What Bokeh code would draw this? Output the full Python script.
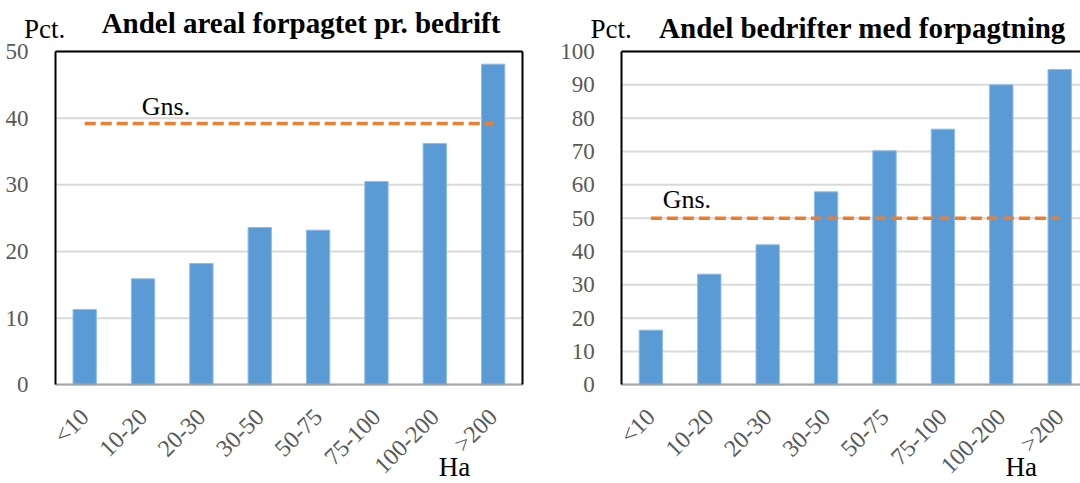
import math
from bokeh.plotting import figure
from bokeh.models import Range1d, LinearAxis, FixedTicker, Label
from bokeh.layouts import row
from bokeh.embed import file_html
from bokeh.resources import INLINE

# ---------------- data ----------------
categories = ["<10", "10-20", "20-30", "30-50", "50-75", "75-100", "100-200", ">200"]
areal_share = [11.3, 15.9, 18.2, 23.6, 23.2, 30.5, 36.2, 48.1]
areal_avg = 39.2
farms_share = [16.4, 33.2, 42.0, 57.9, 70.2, 76.7, 90.0, 94.6]
farms_avg = 50.0
left_title = "Andel areal forpagtet pr. bedrift"
right_title = "Andel bedrifter med forpagtning"
y_unit = "Pct."
x_unit = "Ha"
avg_label = "Gns."
left_yticks = [0, 10, 20, 30, 40, 50]
right_yticks = [0, 10, 20, 30, 40, 50, 60, 70, 80, 90, 100]

# ---------------- style / layout ----------------
FONT = "Liberation Serif"
BAR = "#5B9BD5"
AVG = "#ED7D31"
GRID = "#D9D9D9"
TICKTXT = "#595959"
H = 483
ZERO_PX = 384.3      # canvas y of value 0
TOP_PX = 51.0        # canvas y of axis maximum
MID = 0.34           # label anchor sits this many em above the baseline

idx = list(range(len(categories)))


def make_panel(width, c0_px, cat_px, ymax, yticks, values, avg, title,
               title_cx, title_base, pct_x, ha_x, gns_i, gns_xoff, gns_rise):
    ppu = (ZERO_PX - TOP_PX) / ymax
    x_start = -0.5 - (c0_px - cat_px / 2) / cat_px
    x_end = x_start + width / cat_px
    y_start = -(H - ZERO_PX) / ppu
    y_end = ZERO_PX / ppu
    left_edge = idx[0] - 0.5
    right_edge = idx[-1] + 0.5

    p = figure(width=width, height=H, output_backend="svg", toolbar_location=None,
               x_range=Range1d(x_start, x_end), y_range=Range1d(y_start, y_end),
               min_border=0)
    p.min_border_left = 0
    p.min_border_right = 0
    p.min_border_top = 0
    p.min_border_bottom = 0
    p.outline_line_color = None
    p.background_fill_color = "white"
    p.border_fill_color = "white"
    p.xgrid.visible = False
    p.ygrid.visible = False

    # horizontal gridlines limited to the plot box
    p.segment(x0=[left_edge] * len(yticks), x1=[right_edge] * len(yticks),
              y0=yticks, y1=yticks, line_color=GRID, line_width=2)

    # bars
    p.vbar(x=idx, top=values, width=0.4, bottom=0, fill_color=BAR,
           line_color="#8FBDE6", line_width=1)
    # average line
    p.line(x=[idx[0], idx[-1]], y=[avg, avg], line_color=AVG, line_width=3.5,
           line_dash="11 5")

    # x axis (category axis at value 0)
    xa = p.xaxis[0]
    xa.fixed_location = 0
    xa.bounds = (left_edge, right_edge)
    xa.ticker = FixedTicker(ticks=idx)
    xa.major_label_overrides = {i: c for i, c in zip(idx, categories)}
    xa.major_label_orientation = math.pi / 4
    xa.major_label_text_font = FONT
    xa.major_label_text_font_size = "24px"
    xa.major_label_text_color = TICKTXT
    xa.major_label_standoff = 22
    xa.major_tick_line_color = None
    xa.minor_tick_line_color = None
    xa.axis_line_color = "#A6A6A6"
    xa.axis_line_width = 2

    # y axis (value axis at left edge of plot box)
    ya = p.yaxis[0]
    ya.fixed_location = left_edge
    ya.bounds = (0, ymax)
    ya.ticker = FixedTicker(ticks=yticks)
    ya.major_label_text_font = FONT
    ya.major_label_text_font_size = "23px"
    ya.major_label_text_color = TICKTXT
    ya.major_label_standoff = 21
    ya.major_tick_line_color = None
    ya.minor_tick_line_color = None
    ya.axis_line_color = "black"
    ya.axis_line_width = 2

    # top and right border of the plot box
    top_ax = LinearAxis(ticker=FixedTicker(ticks=[]), fixed_location=ymax,
                        bounds=(left_edge, right_edge), axis_line_color="black",
                        axis_line_width=2, major_tick_line_color=None,
                        minor_tick_line_color=None)
    p.add_layout(top_ax, "above")
    r_ax = LinearAxis(ticker=FixedTicker(ticks=[]), fixed_location=right_edge,
                      bounds=(0, ymax), axis_line_color="black",
                      axis_line_width=2, major_tick_line_color=None,
                      minor_tick_line_color=None)
    p.add_layout(r_ax, "right")

    def txt(x, base_px, text, size, bold=False):
        # x: canvas px from left; base_px: baseline in canvas px from top
        y = H - base_px + MID * size
        p.add_layout(Label(x=x, y=y, x_units="screen", y_units="screen",
                           text=text, text_font=FONT, text_font_size=f"{size}px",
                           text_font_style="bold" if bold else "normal",
                           text_color="black", text_align="left" if not bold else "center",
                           text_baseline="alphabetic"))

    txt(title_cx, title_base, title, 29, bold=True)
    txt(pct_x, 37.7, y_unit, 27)
    txt(ha_x, 475.5, x_unit, 27)
    p.add_layout(Label(x=idx[gns_i], y=avg, x_offset=gns_xoff,
                       y_offset=gns_rise + MID * 26,
                       text=avg_label, text_font=FONT, text_font_size="26px",
                       text_color="black", text_align="left",
                       text_baseline="alphabetic"))
    return p


left = make_panel(560, 84.2, 58.35, 50, left_yticks, areal_share, areal_avg,
                  left_title, 300.5, 32.3, 23.4, 438.3, 1, -1.3, 8)
right = make_panel(520, 90.4, 58.4, 100, right_yticks, farms_share, farms_avg,
                   right_title, 302.0, 37.7, 29.9, 445.0, 0, 11.8, 9.4)

layout = row(left, right, spacing=0)
open("out.html", "w").write(file_html(layout, INLINE))
